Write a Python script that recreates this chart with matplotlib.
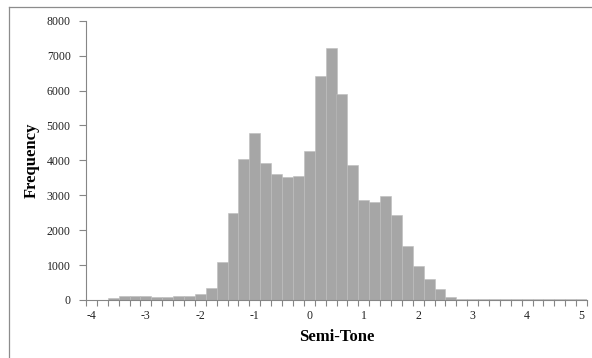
import numpy as np
import matplotlib
matplotlib.use("Agg")
import matplotlib.pyplot as plt
from matplotlib.lines import Line2D
from matplotlib.ticker import FixedLocator

# bin centres (semi-tones), width 0.2
bin_centers = np.round(np.linspace(-4.0, 5.0, 46), 1)
frequency = [
    0, 0, 60, 115, 115, 115, 90, 90, 115, 120,
    165, 350, 1090, 2480, 4050, 4790, 3930, 3610, 3515, 3550,
    4270, 6410, 7210, 5890, 3870, 2855, 2810, 2980, 2435, 1560,
    965, 600, 315, 85, 25, 25, 25, 25, 25, 25,
    25, 25, 25, 25, 25, 25,
]
x_labels = [-4, -3, -2, -1, 0, 1, 2, 3, 4, 5]
y_ticks = [0, 1000, 2000, 3000, 4000, 5000, 6000, 7000, 8000]

plt.rcParams['font.family'] = ['Liberation Serif', 'DejaVu Serif']
axis_col = '#868686'

fig = plt.figure(figsize=(5.92, 3.58), dpi=100)
ax = fig.add_axes([86 / 592, 1 - 300 / 358, 501 / 592, (300 - 20.7) / 358])

ax.bar(bin_centers, frequency, width=0.2, color='#a6a6a6',
       edgecolor='#bdbdbd', linewidth=0.4)

ax.set_xlim(-4.1, 5.1)
ax.set_ylim(0, 8000)

ax.set_xticks(x_labels)
ax.set_xticklabels([str(v) for v in x_labels])
ax.xaxis.set_minor_locator(FixedLocator(np.round(np.arange(-4.1, 5.11, 0.2), 1)))
ax.tick_params(axis='x', which='major', length=0, pad=7, labelsize=8.5, colors='#222222')
ax.tick_params(axis='x', which='minor', length=4, width=0.8, color=axis_col)

ax.set_yticks(y_ticks)
ax.tick_params(axis='y', length=5, width=0.8, color=axis_col, pad=6,
               labelsize=8.5, labelcolor='#222222')

for s in ['top', 'right']:
    ax.spines[s].set_visible(False)
for s in ['left', 'bottom']:
    ax.spines[s].set_color(axis_col)
    ax.spines[s].set_linewidth(0.8)

ax.set_xlabel('Semi-Tone', fontsize=12, fontweight='bold', labelpad=5)
ax.set_ylabel('Frequency', fontsize=12, fontweight='bold', labelpad=5)

# chart-area border (top and left edges visible)
fig.add_artist(Line2D([9 / 592, 1], [1 - 7 / 358, 1 - 7 / 358],
                      transform=fig.transFigure, color='#8c8c8c', lw=0.9))
fig.add_artist(Line2D([9 / 592, 9 / 592], [0, 1 - 7 / 358],
                      transform=fig.transFigure, color='#8c8c8c', lw=0.9))

fig.savefig('out.png', dpi=100)
